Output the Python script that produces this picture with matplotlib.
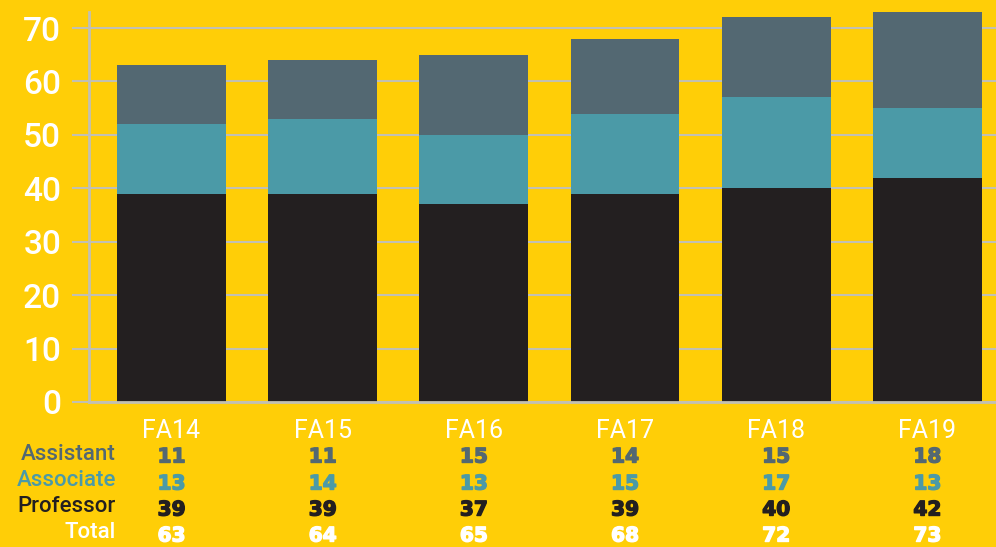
import matplotlib
matplotlib.use("Agg")
import matplotlib.pyplot as plt
import matplotlib.patheffects as pe
import numpy as np
from matplotlib.transforms import blended_transform_factory

years = ["FA14", "FA15", "FA16", "FA17", "FA18", "FA19"]
assistant = [11, 11, 15, 14, 15, 18]
associate = [13, 14, 13, 15, 17, 13]
professor = [39, 39, 37, 39, 40, 42]
total = [63, 64, 65, 68, 72, 73]
row_labels = ["Assistant", "Associate", "Professor", "Total"]
yticks = [0, 10, 20, 30, 40, 50, 60, 70]

BG = "#FFCE07"
C_ASST = "#536872"
C_ASSOC = "#4B9AA7"
C_PROF = "#231F20"
GRID = "#C2C0B2"
LABEL_FONT = ["Roboto", "DejaVu Sans"]

W, H = 996, 547
fig = plt.figure(figsize=(W / 100, H / 100), dpi=100, facecolor=BG)
ax = fig.add_axes([89 / W, 1 - 402 / H, (W - 89) / W, (402 - 12) / H])
ax.set_facecolor(BG)

x = np.arange(len(years))
bw = 0.72
ax.bar(x, professor, bw, color=C_PROF, zorder=3)
ax.bar(x, associate, bw, bottom=professor, color=C_ASSOC, zorder=3)
bottom2 = [p + a for p, a in zip(professor, associate)]
ax.bar(x, assistant, bw, bottom=bottom2, color=C_ASST, zorder=3)

ax.set_xlim(-0.546, 5.454)
ax.set_ylim(0, 73.0)
ax.set_yticks(yticks)
ax.set_yticklabels([str(t) for t in yticks], family=LABEL_FONT, fontsize=24,
                   fontweight="medium", color="white")
ax.tick_params(axis="y", length=12, width=1.5, color=GRID, pad=8)
ax.set_xticks([])
ax.grid(axis="y", color=GRID, linewidth=1.5, zorder=0)
for s in ["top", "right"]:
    ax.spines[s].set_visible(False)
for s in ["left", "bottom"]:
    ax.spines[s].set_color(GRID)
    ax.spines[s].set_linewidth(2)
    ax.spines[s].set_zorder(4)

tr = blended_transform_factory(ax.transData, fig.transFigure)

def fy(py):
    return 1 - py / H

for i, yr in enumerate(years):
    ax.text(i, fy(431), yr, transform=tr, ha="center", va="center",
            family=LABEL_FONT, fontsize=18, color="white")

row_y_lab = [454, 481, 507, 533]
row_y_num = [457, 484, 510, 536]
row_colors = [C_ASST, C_ASSOC, C_PROF, "white"]
row_vals = [assistant, associate, professor, total]
for lab, yl, yn, c, vals in zip(row_labels, row_y_lab, row_y_num, row_colors, row_vals):
    fig.text(116 / W, fy(yl), lab, ha="right", va="center",
             family=LABEL_FONT, fontsize=16, fontweight="medium", color=c)
    for i, v in enumerate(vals):
        ax.text(i, fy(yn), str(v), transform=tr, ha="center", va="center",
                family="DejaVu Sans", fontweight="bold", fontsize=14.5, color=c,
                path_effects=[pe.withStroke(linewidth=1.0, foreground=c)])

fig.savefig("out.png", dpi=100, facecolor=BG)
